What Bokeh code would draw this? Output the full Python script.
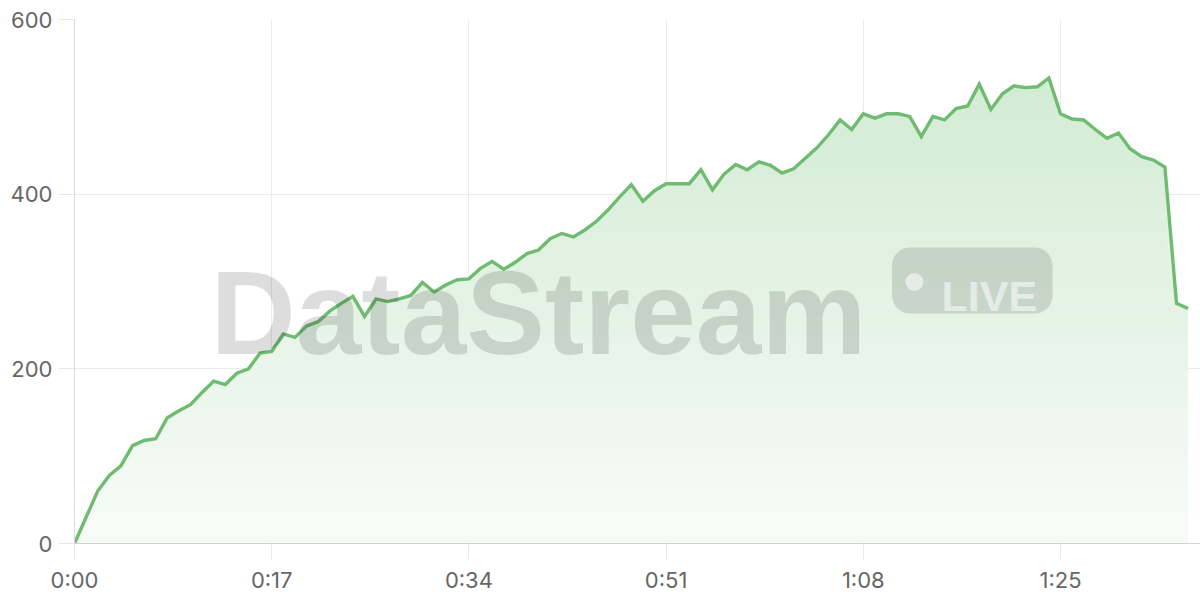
import numpy as np
from bokeh.plotting import figure
from bokeh.models import Range1d, FixedTicker, Label
from bokeh.embed import file_html
from bokeh.resources import INLINE

# ---- data -------------------------------------------------------------
seconds = list(range(97))
viewers = [0, 30, 60, 78, 89, 112, 118, 120, 144, 152, 159, 173, 186, 182, 195, 200, 218,
           220, 240, 236, 249, 254, 266, 275, 283, 260, 280, 277, 280, 284, 299, 288, 296, 302, 303,
           315, 323, 314, 322, 332, 336, 349, 355, 351, 359, 369, 382, 397, 411, 392, 404, 412, 412,
           412, 428, 405, 423, 434, 428, 437, 433, 424, 429, 441, 453, 468, 485, 474, 492, 487,
           492, 492, 489, 466, 489, 485, 498, 501, 526, 497, 515, 524, 522, 523, 533, 492, 486,
           485, 474, 464, 470, 452, 443, 439, 431, 275, 269]
x_ticks = [0, 17, 34, 51, 68, 85]
x_tick_labels = ["0:00", "0:17", "0:34", "0:51", "1:08", "1:25"]
y_ticks = [0, 200, 400, 600]
watermark_text = "DataStream"
badge_text = "LIVE"

# ---- layout ------------------------------------------------------------
W, H = 1200, 600
ML, MT, MB, MR = 74, 19, 57, 0
frame_w = W - ML - MR
frame_h = H - MT - MB
PX_PER_SEC = 11.6
x_end = frame_w / PX_PER_SEC
y_top = 600

p = figure(width=W, height=H, output_backend="svg", toolbar_location=None,
           x_range=Range1d(0, x_end), y_range=Range1d(0, y_top),
           min_border_left=ML, min_border_top=MT, min_border_bottom=MB, min_border_right=MR)
p.outline_line_color = None
p.background_fill_color = "white"
p.border_fill_color = "white"


def px_x(px):  # page pixel -> data x
    return (px - ML) / PX_PER_SEC


def px_y(py):  # page pixel -> data y
    return (MT + frame_h - py) * y_top / frame_h


# ---- gradient area fill (horizontal bands) ------------------------------
y = np.array(viewers, dtype=float)
n_bands = 60
edges = np.linspace(0, y_top, n_bands + 1)
base = np.array([102, 187, 106])
for k in range(n_bands):
    lo, hi = edges[k], edges[k + 1]
    mid = (lo + hi) / 2
    a = 0.05 + 0.27 * mid / y_top
    rgb = (255 - a * (255 - base)).round().astype(int)
    col = "#%02x%02x%02x" % tuple(rgb)
    p.varea(x=seconds, y1=np.minimum(y, max(lo - 1.5, 0)), y2=np.minimum(y, hi),
            fill_color=col, fill_alpha=1.0)

# ---- watermark ----------------------------------------------------------
p.add_layout(Label(x=px_x(210), y=px_y(312), text=watermark_text,
                   text_font="Liberation Sans", text_font_style="bold",
                   text_font_size="118px", text_color="black", text_alpha=0.135,
                   text_align="left", text_baseline="alphabetic"))
p.quad(left=[px_x(891.5)], right=[px_x(1052)], top=[px_y(247)], bottom=[px_y(313)],
       fill_color="black", fill_alpha=0.12, line_color=None, border_radius=18)
p.scatter(x=[px_x(914)], y=[px_y(281.5)], size=18, marker="circle",
          fill_color="white", fill_alpha=0.55, line_color=None)
p.add_layout(Label(x=px_x(941), y=px_y(295.5), text=badge_text,
                   text_font="Liberation Sans", text_font_style="bold",
                   text_font_size="43px", text_color="white", text_alpha=0.55,
                   text_align="left", text_baseline="alphabetic"))

# ---- line ---------------------------------------------------------------
p.line(seconds, viewers, line_color="#70bb72", line_width=3.4, line_join="miter")

# ---- axes & grid --------------------------------------------------------
p.xaxis.ticker = FixedTicker(ticks=x_ticks)
p.xaxis.major_label_overrides = {t: l for t, l in zip(x_ticks, x_tick_labels)}
p.yaxis.ticker = FixedTicker(ticks=y_ticks)

for ax in (p.xaxis[0], p.yaxis[0]):
    ax.major_tick_in = 0
    ax.major_tick_out = 16
    ax.minor_tick_line_color = None
    ax.major_tick_line_color = "#e8e8e8"
    ax.major_label_text_font = "Inter"
    ax.major_label_text_font_size = "22px"
    ax.major_label_text_color = "#666666"
p.xaxis.axis_line_color = "#d2d2d2"
p.yaxis.axis_line_color = "#dadada"
p.xaxis.major_label_standoff = 7
p.yaxis.major_label_standoff = 6

p.xgrid.ticker = FixedTicker(ticks=x_ticks)
p.ygrid.ticker = FixedTicker(ticks=y_ticks)
p.grid.grid_line_color = "#ebebeb"
p.grid.grid_line_width = 1

open("out.html", "w").write(file_html(p, INLINE))
